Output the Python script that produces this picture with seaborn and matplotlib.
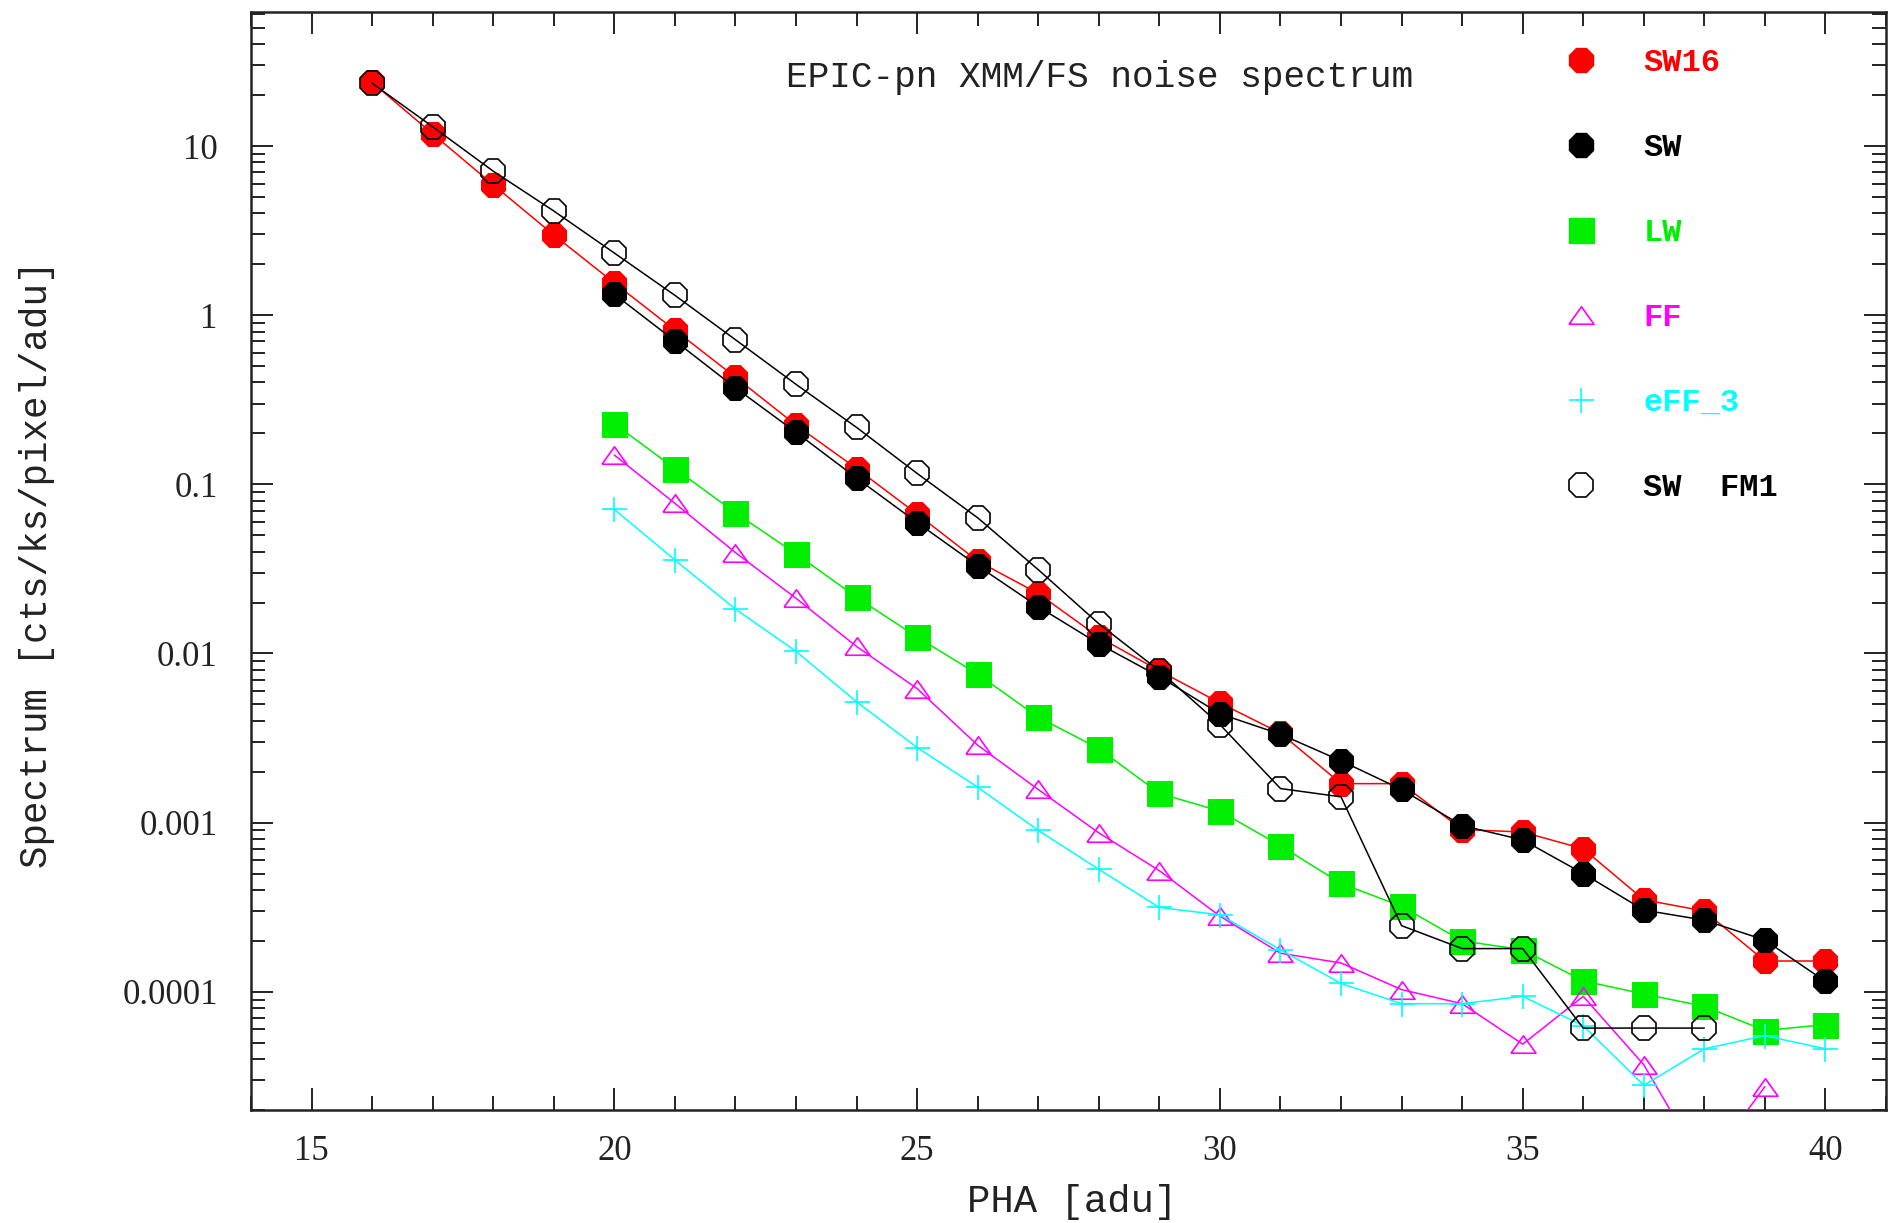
import numpy as np
import pandas as pd
import seaborn as sns
import matplotlib.pyplot as plt
from matplotlib.lines import Line2D
from matplotlib.ticker import FixedLocator, LogLocator, FuncFormatter, MultipleLocator

# PHA channels
pha_sw16 = list(range(16, 41))
pha_sw = list(range(20, 41))
pha_lw = list(range(20, 41))
pha_ff = list(range(20, 40))
pha_eff3 = list(range(20, 41))
pha_fm1 = list(range(16, 39))

sw16 = [23.8, 11.8, 5.9, 2.98, 1.55, 0.816, 0.43, 0.224, 0.124, 0.0667,
        0.0352, 0.0226, 0.0125, 0.0079, 0.0051, 0.00338, 0.0017, 0.0017,
        0.00091, 0.00088, 0.0007, 0.00035, 0.0003, 0.000152, 0.000152]
sw = [1.33, 0.705, 0.372, 0.203, 0.109, 0.0594, 0.033, 0.0189, 0.0114,
      0.0073, 0.0044, 0.00333, 0.00232, 0.00157, 0.00096, 0.00079, 0.0005,
      0.000304, 0.000265, 0.000202, 0.000115]
lw = [0.228, 0.124, 0.0678, 0.0388, 0.0215, 0.0125, 0.00755, 0.0042,
      0.00274, 0.00149, 0.00117, 0.00073, 0.000437, 0.00032, 0.0002,
      0.000177, 0.000116, 9.7e-5, 8.2e-5, 5.9e-5, 6.4e-5]
ff = [0.149, 0.0772, 0.0395, 0.0212, 0.011, 0.0062, 0.00287, 0.00157,
      0.00087, 0.00052, 0.00028, 0.000169, 0.000148, 0.000103, 8.5e-5,
      4.9e-5, 9.4e-5, 3.7e-5, 9e-6, 2.75e-5]
eff3 = [0.0711, 0.0357, 0.0183, 0.0103, 0.00518, 0.00278, 0.00162, 0.0009,
        0.00053, 0.000315, 0.000285, 0.000177, 0.000112, 8.5e-5, 8.5e-5,
        9.4e-5, 6.3e-5, 2.8e-5, 4.6e-5, 5.5e-5, 4.6e-5]
sw_fm1 = [23.5, 13.0, 7.1, 4.13, 2.33, 1.31, 0.716, 0.39, 0.217, 0.116,
          0.0634, 0.0313, 0.015, 0.0079, 0.0038, 0.00159, 0.00142, 0.000246,
          0.00018, 0.00018, 6.1e-5, 6.1e-5, 6.1e-5]

labels = ["SW16", "SW", "LW", "FF", "eFF_3", "SW  FM1"]

sns.set_style("ticks")
plt.rcParams['font.family'] = ['Liberation Mono', 'DejaVu Sans']

fig = plt.figure(figsize=(18.9, 12.23), dpi=100)
ax = fig.add_axes([0.1328, 0.0924, 0.8651, 0.8978])

tri = [(-1, -0.7), (1, -0.7), (0, 0.7), (-1, -0.7)]

sns.lineplot(x=pha_sw16, y=sw16, ax=ax, color='#ff0000', lw=1.1,
             marker='8', markersize=19, markeredgecolor='#ff0000', zorder=3)
sns.lineplot(x=pha_sw, y=sw, ax=ax, color='black', lw=1.1,
             marker='8', markersize=19, markeredgecolor='black', zorder=4)
sns.lineplot(x=pha_lw, y=lw, ax=ax, color='#00ee00', lw=1.1,
             marker='s', markersize=18, markeredgecolor='#00ee00',
             markerfacecolor='#00ee00', zorder=5)
sns.lineplot(x=pha_ff, y=ff, ax=ax, color='#ff00ff', lw=1.1,
             marker=tri, markersize=18, markeredgecolor='#ff00ff',
             markerfacecolor='none', markeredgewidth=1.2, zorder=6)
sns.lineplot(x=pha_eff3, y=eff3, ax=ax, color='#00ffff', lw=1.1,
             marker='+', markersize=18, markeredgecolor='#00ffff',
             markeredgewidth=1.2, zorder=7)
sns.lineplot(x=pha_fm1, y=sw_fm1, ax=ax, color='black', lw=1.1,
             marker='8', markersize=19, markeredgecolor='black',
             markerfacecolor='none', markeredgewidth=1.2, zorder=8)

ax.set_yscale('log')
ax.set_xlim(14, 41)
ax.set_ylim(2e-5, 62)

ax.xaxis.set_major_locator(MultipleLocator(5))
ax.xaxis.set_minor_locator(MultipleLocator(1))
ax.yaxis.set_major_locator(FixedLocator([1e-4, 1e-3, 1e-2, 0.1, 1, 10]))
ax.yaxis.set_minor_locator(LogLocator(base=10, subs=np.arange(2, 10)))
ax.yaxis.set_major_formatter(FuncFormatter(lambda v, p: f"{v:g}"))

for s in ax.spines.values():
    s.set_linewidth(1.8)
    s.set_color('#222222')
ax.tick_params(which='both', direction='in', top=True, right=True,
               color='#222222', width=1.4)
ax.tick_params(which='major', length=16, labelsize=25, labelcolor='#222222',
               labelfontfamily='Liberation Serif')
ax.tick_params(which='minor', length=10)
ax.tick_params(axis='x', which='major', pad=18)
ax.tick_params(axis='y', which='major', pad=24)

ax.set_xlabel("PHA [adu]", fontsize=28, color='#222222')
ax.set_ylabel("Spectrum [cts/ks/pixel/adu]", fontsize=27, color='#222222')
ax.xaxis.label.set_va('center')
ax.yaxis.label.set_va('center')
ax.xaxis.set_label_coords(0.502, -0.0838)
ax.yaxis.set_label_coords(-0.131, 0.497)

ax.text(0.519, 0.94, "EPIC-pn XMM/FS noise spectrum", transform=ax.transAxes,
        ha='center', va='center', fontsize=26, color='#222222')

handles = [
    Line2D([], [], ls='none', marker='8', ms=19, color='#ff0000'),
    Line2D([], [], ls='none', marker='8', ms=19, color='black'),
    Line2D([], [], ls='none', marker='s', ms=18, color='#00ee00'),
    Line2D([], [], ls='none', marker=tri, ms=18, mfc='none', mec='#ff00ff', mew=1.2),
    Line2D([], [], ls='none', marker='+', ms=18, color='#00ffff', mew=1.2),
    Line2D([], [], ls='none', marker='8', ms=19, mfc='none', mec='black', mew=1.2),
]
leg = ax.legend(handles, labels, loc='upper left', bbox_to_anchor=(0.7862, 0.993),
                frameon=False, prop={'family': 'Liberation Mono', 'weight': 'bold', 'size': 23},
                labelcolor=['#ff0000', 'black', '#00ee00', '#ff00ff', '#00ffff', 'black'],
                handlelength=1.0, handletextpad=1.45, labelspacing=1.72)

fig.savefig("out.png", dpi=100)
